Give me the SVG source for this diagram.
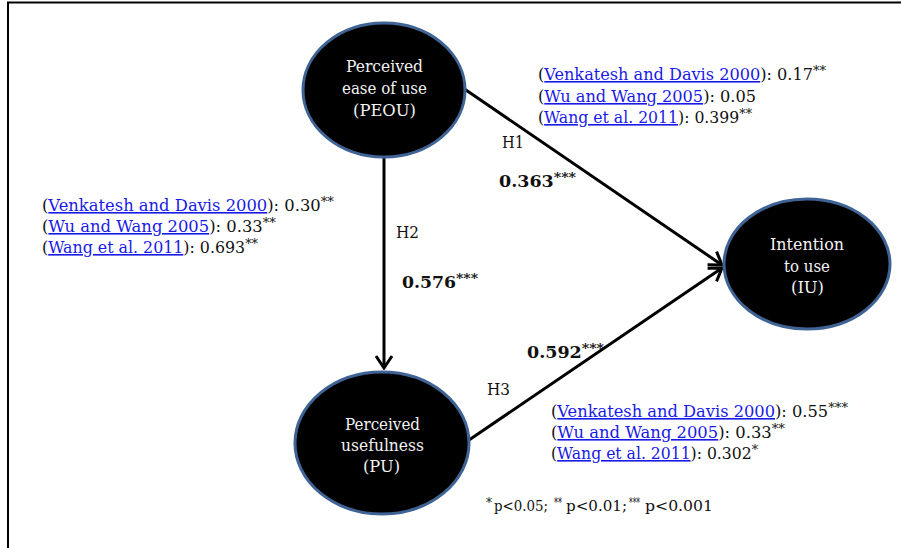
<svg xmlns="http://www.w3.org/2000/svg" width="901" height="548" viewBox="0 0 901 548">
<style>
.node{fill:#000;stroke:#3f6394;stroke-width:3}
.nt{font-family:"DejaVu Serif","Liberation Serif",serif;font-size:17px;fill:#f2f2f2}
.ref{font-family:"DejaVu Serif","Liberation Serif",serif;font-size:16px;fill:#111}
.lnk{fill:#1a1ae6;text-decoration:underline}
.lab{font-family:"DejaVu Serif","Liberation Serif",serif;font-size:16px;fill:#111}
.b{font-weight:bold}
.fn{font-family:"DejaVu Serif","Liberation Serif",serif;font-size:14px;fill:#111}
.fs{font-family:"DejaVu Serif","Liberation Serif",serif;font-size:12px;fill:#111}
.conn{stroke:#000;stroke-width:3;fill:none}
.frame{stroke:#000;stroke-width:2;fill:none}
</style>
<defs>
<marker id="arr" markerUnits="userSpaceOnUse" viewBox="-16 -10 18 20" markerWidth="18" markerHeight="20" refX="0" refY="0" orient="auto">
<path d="M-12,-8 L0,0 L-12,8" fill="none" stroke="#000" stroke-width="3"/>
</marker>
</defs>
<rect width="901" height="548" fill="#fff"/>
<path class="frame" d="M901,2.5 H8 V548"/>
<g id="connectors">
<line class="conn" x1="384" y1="158" x2="384" y2="368" marker-end="url(#arr)"/>
<line class="conn" x1="463" y1="88" x2="722" y2="265" marker-end="url(#arr)"/>
<line class="conn" x1="469" y1="440" x2="722" y2="268" marker-end="url(#arr)"/>
</g>
<g id="PEOU">
<ellipse class="node" cx="384" cy="90" rx="81" ry="67"/>
<text class="nt" x="346" y="72" textLength="77" lengthAdjust="spacingAndGlyphs">Perceived</text>
<text class="nt" x="342" y="94" textLength="85" lengthAdjust="spacingAndGlyphs">ease of use</text>
<text class="nt" x="353" y="116" textLength="63" lengthAdjust="spacingAndGlyphs">(PEOU)</text>
</g>
<g id="PU">
<ellipse class="node" cx="382" cy="443" rx="87" ry="71"/>
<text class="nt" x="345" y="430" textLength="75" lengthAdjust="spacingAndGlyphs">Perceived</text>
<text class="nt" x="341" y="451" textLength="83" lengthAdjust="spacingAndGlyphs">usefulness</text>
<text class="nt" x="363" y="472" textLength="37" lengthAdjust="spacingAndGlyphs">(PU)</text>
</g>
<g id="IU">
<ellipse class="node" cx="807" cy="264" rx="83" ry="65"/>
<text class="nt" x="770" y="250" textLength="74" lengthAdjust="spacingAndGlyphs">Intention</text>
<text class="nt" x="784" y="272" textLength="46" lengthAdjust="spacingAndGlyphs">to use</text>
<text class="nt" x="791" y="293" textLength="33" lengthAdjust="spacingAndGlyphs">(IU)</text>
</g>
<g id="labels">
<text class="lab" x="502" y="148" textLength="22" lengthAdjust="spacingAndGlyphs">H1</text>
<text class="lab b" x="499" y="187" textLength="77" lengthAdjust="spacingAndGlyphs">0.363<tspan font-size="13" dy="-5">***</tspan></text>
<text class="lab" x="396" y="238" textLength="23" lengthAdjust="spacingAndGlyphs">H2</text>
<text class="lab b" x="402" y="288" textLength="76" lengthAdjust="spacingAndGlyphs">0.576<tspan font-size="13" dy="-5">***</tspan></text>
<text class="lab b" x="527" y="358" textLength="77" lengthAdjust="spacingAndGlyphs">0.592<tspan font-size="13" dy="-5">***</tspan></text>
<text class="lab" x="487" y="395" textLength="23" lengthAdjust="spacingAndGlyphs">H3</text>
</g>
<g id="refs-H1">
<text class="ref" x="538" y="80" textLength="288" lengthAdjust="spacingAndGlyphs">(<tspan class="lnk">Venkatesh and Davis 2000</tspan>): 0.17<tspan font-size="13" dy="-5">**</tspan></text>
<text class="ref" x="538" y="102" textLength="218" lengthAdjust="spacingAndGlyphs">(<tspan class="lnk">Wu and Wang 2005</tspan>): 0.05</text>
<text class="ref" x="538" y="123" textLength="214" lengthAdjust="spacingAndGlyphs">(<tspan class="lnk">Wang et al. 2011</tspan>): 0.399<tspan font-size="13" dy="-5">**</tspan></text>
</g>
<g id="refs-H2">
<text class="ref" x="42" y="211" textLength="292" lengthAdjust="spacingAndGlyphs">(<tspan class="lnk">Venkatesh and Davis 2000</tspan>): 0.30<tspan font-size="13" dy="-5">**</tspan></text>
<text class="ref" x="42" y="232" textLength="234" lengthAdjust="spacingAndGlyphs">(<tspan class="lnk">Wu and Wang 2005</tspan>): 0.33<tspan font-size="13" dy="-5">**</tspan></text>
<text class="ref" x="42" y="253" textLength="216" lengthAdjust="spacingAndGlyphs">(<tspan class="lnk">Wang et al. 2011</tspan>): 0.693<tspan font-size="13" dy="-5">**</tspan></text>
</g>
<g id="refs-H3">
<text class="ref" x="551" y="417" textLength="297" lengthAdjust="spacingAndGlyphs">(<tspan class="lnk">Venkatesh and Davis 2000</tspan>): 0.55<tspan font-size="13" dy="-5">***</tspan></text>
<text class="ref" x="551" y="438" textLength="234" lengthAdjust="spacingAndGlyphs">(<tspan class="lnk">Wu and Wang 2005</tspan>): 0.33<tspan font-size="13" dy="-5">**</tspan></text>
<text class="ref" x="551" y="459" textLength="207" lengthAdjust="spacingAndGlyphs">(<tspan class="lnk">Wang et al. 2011</tspan>): 0.302<tspan font-size="13" dy="-5">*</tspan></text>
</g>
<g id="footnote">
<text class="fs" x="486" y="507" textLength="6" lengthAdjust="spacingAndGlyphs">*</text>
<text class="fn" x="494" y="511" textLength="54" lengthAdjust="spacingAndGlyphs">p&lt;0.05;</text>
<text class="fs" x="554" y="507" textLength="8" lengthAdjust="spacingAndGlyphs">**</text>
<text class="fn" x="566" y="511" textLength="61" lengthAdjust="spacingAndGlyphs">p&lt;0.01;</text>
<text class="fs" x="629" y="507" textLength="11" lengthAdjust="spacingAndGlyphs">***</text>
<text class="fn" x="645" y="511" textLength="68" lengthAdjust="spacingAndGlyphs">p&lt;0.001</text>
</g>
</svg>
